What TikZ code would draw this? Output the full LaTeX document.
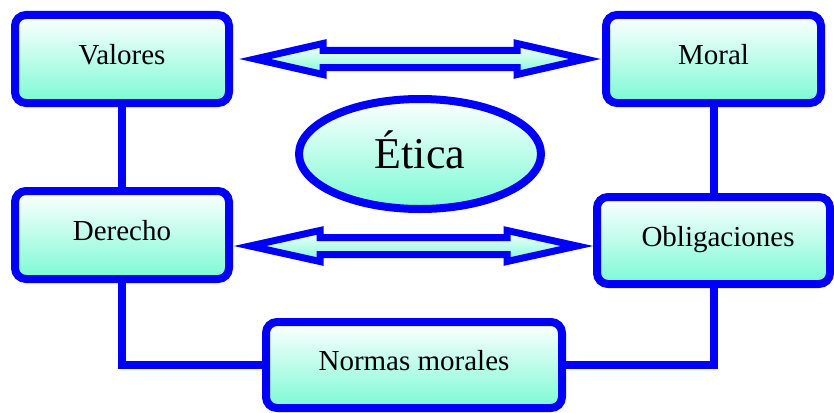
\documentclass[tikz,border=0pt]{standalone}
\usepackage{fontspec}
\setmainfont{Liberation Serif}
\usepackage{tikz}
\usetikzlibrary{shapes,positioning,calc}
\definecolor{azul}{RGB}{0,0,250}
\definecolor{aguamarina}{RGB}{122,250,212}
\tikzset{caja/.style={draw=azul,line width=8pt,rounded corners=11pt,
    top color=white,bottom color=aguamarina,minimum height=88pt,
    text height=19pt,text depth=8pt,font=\fontsize{29}{32}\selectfont},
  linea/.style={draw=azul,line width=8pt},
  flecha/.style={draw=azul,line width=7pt,line join=miter,
    top color=white,bottom color=aguamarina}}
% #1 punta izquierda, #2 punta derecha, #3 largo de la cabeza
\newcommand{\flechadoble}[3]{%
  \path[flecha] (#1) -- ++(#3,-15.5) -- ++(0,7) -- ($(#2)+(-#3,-8.5)$)
    -- ++(0,-7) -- (#2) -- ++(-#3,15.5) -- ++(0,-7) -- ($(#1)+(#3,8.5)$)
    -- ++(0,7) -- cycle;}

\begin{document}
\begin{tikzpicture}[x=1pt,y=-1pt]
    \useasboundingbox (0,0) rectangle (834,412);
    \node (val) [caja,minimum width=214pt] at (122,59) {Valores};
    \node (der) [caja,minimum width=214pt] at (122,235) {Derecho};
    \node (mor) [caja,minimum width=215pt] at (713.5,59) {Moral};
    \node (obl) [caja,minimum width=233pt,minimum height=87pt] at (713.5,240.5) {\hspace{9pt}Obligaciones};
    \node (nor) [caja,minimum width=296pt,minimum height=86pt] at (414,365) {Normas morales};
    \node (eti) [ellipse,draw=azul,line width=8pt,top color=white,bottom color=aguamarina,
      minimum width=242pt,minimum height=110pt,inner sep=0pt,
      text height=29pt,text depth=0pt,font=\fontsize{44}{48}\selectfont] at (420,154) {Ética};

    \draw[linea] (val) -- (der);
    \draw[linea] (mor) -- (obl);
    \draw[linea] (der.south) |- (nor.west);
    \draw[linea] (obl.south) |- (nor.east);

    \coordinate (f1a) at ($(val.east)+(22,0)$);
    \coordinate (f1b) at ($(mor.west)+(-17,0)$);
    \coordinate (f2a) at ($(der.east)+(17,11)$);
    \coordinate (f2b) at ($(obl.west)+(-16,5.5)$);
    \flechadoble{f1a}{f1b}{68}
    \flechadoble{f2a}{f2b}{70}
  \end{tikzpicture}
\end{document}
